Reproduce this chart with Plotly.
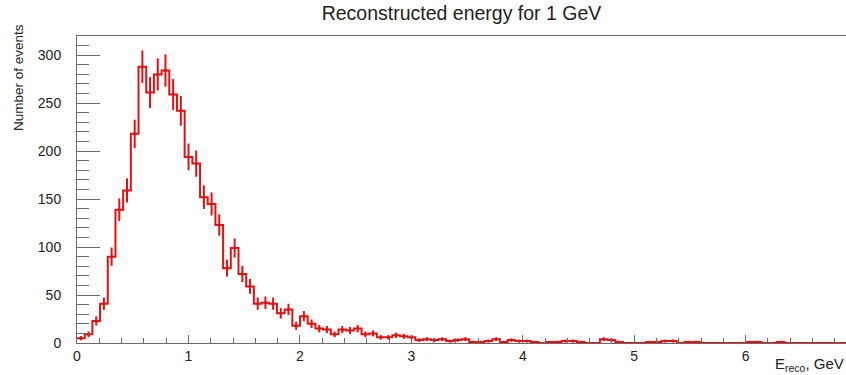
import numpy as np
import plotly.graph_objects as go

# Histogram: 100 bins of reconstructed energy between 0 and 6.9 GeV
e_min, e_max, n_bins = 0.0, 6.9, 100
counts = [
    5, 9, 23, 41, 90, 139, 159, 218, 288, 261,
    280, 284, 259, 242, 194, 187, 152, 145, 123, 78,
    99, 72, 59, 41, 42, 41, 31, 35, 18, 28,
    20, 15, 14, 9, 14, 13, 15, 9, 10, 6,
    6, 8, 7, 6, 3, 4, 3, 4, 2, 3,
    4, 1, 1, 2, 4, 1, 3, 2, 2, 1,
    0, 1, 1, 2, 2, 1, 0, 0, 4, 3,
    1, 0, 0, 0, 1, 1, 2, 2, 0, 1,
    1, 0, 0, 0, 0, 0, 0, 1, 1, 0,
    0, 1, 0, 0, 0, 0, 0, 0, 0, 0,
]
x_ticks = [0, 1, 2, 3, 4, 5, 6]
y_ticks = [0, 50, 100, 150, 200, 250, 300]

edges = np.linspace(e_min, e_max, n_bins + 1)
centers = 0.5 * (edges[:-1] + edges[1:])
counts_arr = np.array(counts, dtype=float)
errors = np.sqrt(counts_arr)
filled = counts_arr > 0

red = "rgb(226,18,18)"
axis_grey = "#6a6a6a"
text_col = "#222222"
font_family = "Liberation Sans, Arial, Helvetica, sans-serif"

fig = go.Figure()

# step outline of the histogram
fig.add_trace(go.Scatter(
    x=edges,
    y=np.append(counts_arr, counts_arr[-1]),
    mode="lines",
    line=dict(color=red, width=2, shape="hv"),
    hoverinfo="skip",
    showlegend=False,
))

# statistical error bars (sqrt N) with small markers
fig.add_trace(go.Scatter(
    x=centers[filled],
    y=counts_arr[filled],
    mode="markers",
    marker=dict(color=red, size=3),
    error_y=dict(type="data", array=errors[filled], visible=True,
                 color=red, thickness=2, width=0),
    showlegend=False,
))

fig.update_layout(
    width=846, height=375,
    margin=dict(l=77, r=0, t=36, b=32),
    paper_bgcolor="white",
    plot_bgcolor="white",
    font=dict(family=font_family, size=13, color=text_col),
    title=dict(
        text="Reconstructed energy for 1 GeV",
        x=0.5, xref="paper", y=1 - 13 / 375, yref="container",
        xanchor="center", yanchor="middle",
        font=dict(family=font_family, size=19.5, color=text_col),
    ),
    xaxis=dict(
        range=[e_min, e_max],
        tickvals=x_ticks,
        ticktext=[str(v) for v in x_ticks],
        ticks="inside", ticklen=8, tickwidth=1, tickcolor=axis_grey,
        minor=dict(dtick=0.2, ticks="inside", ticklen=5, tickcolor=axis_grey),
        showline=True, linecolor=axis_grey, linewidth=1, mirror=True,
        showgrid=False, zeroline=False,
        tickfont=dict(size=14),
    ),
    yaxis=dict(
        range=[0, 320],
        tickvals=y_ticks,
        ticktext=[str(v) for v in y_ticks],
        ticks="inside", ticklen=23, tickwidth=1, tickcolor=axis_grey,
        minor=dict(dtick=10, ticks="inside", ticklen=12, tickcolor=axis_grey),
        showline=True, linecolor=axis_grey, linewidth=1,
        showgrid=False, zeroline=False,
        ticklabelstandoff=12,
        tickfont=dict(size=14),
    ),
    annotations=[
        dict(
            text="Number of events", textangle=-90,
            xref="paper", yref="paper",
            x=-77 / 769 + 18 / 769, y=1 - (78 - 36) / 307,
            xanchor="center", yanchor="middle", showarrow=False,
            font=dict(size=13.5, color=text_col),
        ),
        dict(
            text="E<sub>reco</sub>, GeV",
            xref="paper", yref="paper",
            x=1.0, y=-(364 - 343) / 307,
            xanchor="right", yanchor="middle", showarrow=False,
            font=dict(size=15, color=text_col),
        ),
    ],
)

fig.write_html("out.html")
